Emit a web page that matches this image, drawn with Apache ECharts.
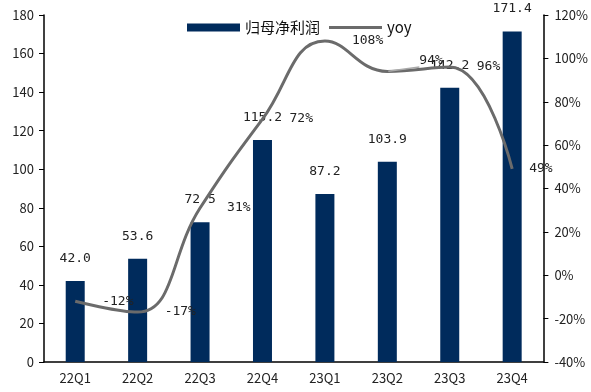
<!DOCTYPE html>
<html><head><meta charset="utf-8">
<script src="https://cdn.jsdelivr.net/npm/echarts@6/dist/echarts.min.js"></script>
<style>html,body{margin:0;padding:0;background:#fff}#c{width:591px;height:392px}</style>
</head><body><div id="c"></div>
<script>
const categories = ['22Q1','22Q2','22Q3','22Q4','23Q1','23Q2','23Q3','23Q4'];
const profit = [42.0, 53.6, 72.5, 115.2, 87.2, 103.9, 142.2, 171.4];
const yoy = [-12, -17, 31, 72, 108, 94, 96, 49];
const leftTicks = {min: 0, max: 180, interval: 20};
const rightTicks = {min: -40, max: 120, interval: 20};

const chart = echarts.init(document.getElementById('c'));
const font = '"Noto Sans CJK SC", "Liberation Sans", sans-serif';
const mono = '"DejaVu Sans Mono", monospace';
const lineColor = '#6b6b6b';
chart.setOption({
  animation: false,
  textStyle: {fontFamily: font},
  grid: {left: 44, right: 45, top: 15, bottom: 30},
  legend: {
    top: 15, left: 182, itemGap: 9,
    textStyle: {fontSize: 15, color: '#111', fontFamily: font},
    data: [
      {name: '归母净利润', icon: 'rect', itemStyle: {color: '#002B5C'}},
      {name: 'yoy', icon: 'path://M0,0 L53,0 L53,3 L0,3 Z', itemStyle: {color: lineColor, opacity: 1}}
    ],
    itemWidth: 53, itemHeight: 8
  },
  xAxis: {
    type: 'category', data: categories,
    axisLine: {lineStyle: {color: '#000', width: 1.5}},
    axisTick: {show: false},
    axisLabel: {color: '#222', fontSize: 13, margin: 10, fontFamily: font}
  },
  yAxis: [
    {type: 'value', ...leftTicks, position: 'left',
     axisLine: {show: true, lineStyle: {color: '#000', width: 1.5}},
     axisTick: {show: true, length: 5, lineStyle: {color: '#000'}},
     splitLine: {show: false},
     axisLabel: {color: '#222', fontSize: 13, margin: 10, fontFamily: font}},
    {type: 'value', ...rightTicks, position: 'right',
     axisLine: {show: true, lineStyle: {color: '#000', width: 1.5}},
     axisTick: {show: true, length: 5, lineStyle: {color: '#000'}},
     splitLine: {show: false},
     axisLabel: {color: '#222', fontSize: 13, margin: 11, formatter: '{value}%', fontFamily: font}}
  ],
  series: [
    {name: '归母净利润', type: 'bar', data: profit, barWidth: 19,
     itemStyle: {color: '#002B5C'},
     label: {show: true, position: 'top', distance: 16, color: '#222', fontSize: 13,
             fontFamily: mono, formatter: p => p.value.toFixed(1)}},
    {name: 'yoy', type: 'line', yAxisIndex: 1, data: yoy.map((v, i) => {
        const d = {value: v};
        if (i === 5) {
          d.label = {offset: [5, -11]};
          d.labelLine = {show: true, lineStyle: {color: '#aaa', width: 1.5}};
        }
        if (i === 7) d.label = {distance: 16};
        return d;
      }), smooth: 0.45,
     symbol: 'circle', symbolSize: 2, showSymbol: true,
     lineStyle: {color: lineColor, width: 3},
     itemStyle: {color: 'rgba(0,0,0,0)'},
     label: {show: true, position: 'right', distance: 26, color: '#222', fontSize: 13,
             fontFamily: mono, formatter: p => p.value + '%'}}
  ]
});
</script></body></html>
